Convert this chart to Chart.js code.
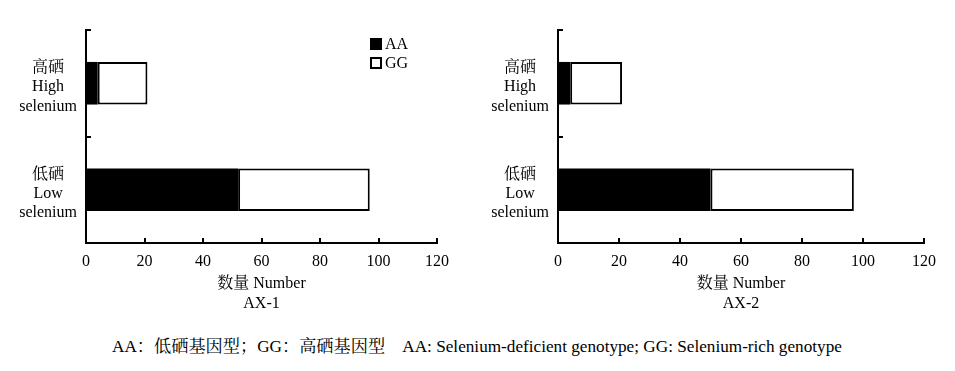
<!DOCTYPE html>
<html>
<head>
<meta charset="utf-8">
<script src="https://cdn.jsdelivr.net/npm/chart.js@4"></script>
<style>
  html, body { margin: 0; padding: 0; background: #fff; }
  body { width: 955px; height: 371px; position: relative; overflow: hidden; font-family: 'Liberation Serif', 'Noto Serif CJK SC', 'Noto Sans CJK SC', serif; }
  .wrap { position: absolute; top: 0; height: 313px; }
  .legend { position: absolute; font-size: 16px; line-height: 19px; color: #000; }
  .legend div { display: flex; align-items: center; height: 19px; }
  .legend span.box { display: inline-block; width: 10px; height: 10px; border: 1px solid #000; margin-right: 3px; box-sizing: content-box; }
  .caption { position: absolute; top: 332px; left: 112px; font-size: 17.2px; color: #000; white-space: nowrap; }
</style>
</head>
<body>
<div class="wrap" id="w1" style="left:0;width:460px;"><canvas id="c1"></canvas></div>
<div class="wrap" id="w2" style="left:470px;width:485px;"><canvas id="c2"></canvas></div>
<div class="legend" style="left:370px;top:34px;">
  <div><span class="box" style="background:#000;"></span>AA</div>
  <div><span class="box" style="background:#fff;border-width:2px;width:8px;height:8px;"></span>GG</div>
</div>
<div class="caption">AA：低硒基因型；GG：高硒基因型　AA: Selenium-deficient genotype; GG: Selenium-rich genotype</div>
<script>
const categories = [["高硒", "High", "selenium"], ["低硒", "Low", "selenium"]];
const seriesNames = ["AA", "GG"];
const ax1AA = [4, 52];
const ax1GG = [17, 45];
const ax2AA = [4, 50];
const ax2GG = [17, 47];
const xTicks = [0, 20, 40, 60, 80, 100, 120];
const panelTitles = ["AX-1", "AX-2"];

const FONT = "'Liberation Serif', 'Noto Serif CJK SC', 'Noto Sans CJK SC', serif";

const innerTicks = {
  id: 'innerTicks',
  afterDraw(chart) {
    const ctx = chart.ctx;
    const x = chart.scales.x, y = chart.scales.y;
    ctx.save();
    ctx.strokeStyle = '#000';
    ctx.lineWidth = 2;
    ctx.beginPath();
    xTicks.forEach(v => {
      if (v === 0) return;
      const px = Math.round(x.getPixelForValue(v));
      ctx.moveTo(px, y.bottom);
      ctx.lineTo(px, y.bottom - 5);
    });
    const n = categories.length;
    for (let i = 0; i < n; i++) {
      const py = Math.round(y.getPixelForValue(i) - (y.getPixelForValue(1) - y.getPixelForValue(0)) / 2);
      ctx.moveTo(x.left, py);
      ctx.lineTo(x.left + 5, py);
    }
    ctx.stroke();
    ctx.restore();
  }
};

function makeChart(id, aa, gg, title, yWidth, rightPad) {
  return new Chart(document.getElementById(id), {
    type: 'bar',
    data: {
      labels: categories,
      datasets: [
        { label: seriesNames[0], data: aa, backgroundColor: '#000', borderColor: '#000', borderWidth: 0, barPercentage: 0.8, categoryPercentage: 0.5 },
        { label: seriesNames[1], data: gg, backgroundColor: '#fff', borderColor: '#000', borderWidth: 2, borderSkipped: false, barPercentage: 0.8, categoryPercentage: 0.5 }
      ]
    },
    options: {
      indexAxis: 'y',
      responsive: true,
      maintainAspectRatio: false,
      animation: false,
      layout: { padding: { top: 30, right: rightPad, left: 0, bottom: 0 } },
      plugins: { legend: { display: false }, tooltip: { enabled: false } },
      scales: {
        x: {
          stacked: true,
          min: 0, max: 120,
          afterBuildTicks: s => { s.ticks = xTicks.map(v => ({ value: v })); },
          grid: { display: false, drawTicks: false },
          border: { display: true, color: '#000', width: 2 },
          ticks: { color: '#000', padding: 9, font: { family: FONT, size: 16 }, maxRotation: 0 },
          title: { display: true, text: ["数量 Number", title], color: '#000', font: { family: FONT, size: 16, lineHeight: 1.2 }, padding: { top: 0, bottom: 0 } },
          afterFit: s => { s.height = 313 - 243; s.paddingLeft = 0; s.paddingRight = 0; }
        },
        y: {
          stacked: true,
          offset: true,
          grid: { display: false, drawTicks: false, offset: true },
          border: { display: true, color: '#000', width: 2 },
          ticks: { color: '#000', padding: 9, crossAlign: 'center', labelOffset: 4, font: { family: FONT, size: 16, lineHeight: 1.2 } },
          afterFit: s => { s.width = yWidth; s.paddingTop = 0; s.paddingBottom = 0; }
        }
      }
    },
    plugins: [innerTicks]
  });
}

makeChart('c1', ax1AA, ax1GG, panelTitles[0], 86, 23);
makeChart('c2', ax2AA, ax2GG, panelTitles[1], 88, 31);
</script>
</body>
</html>
